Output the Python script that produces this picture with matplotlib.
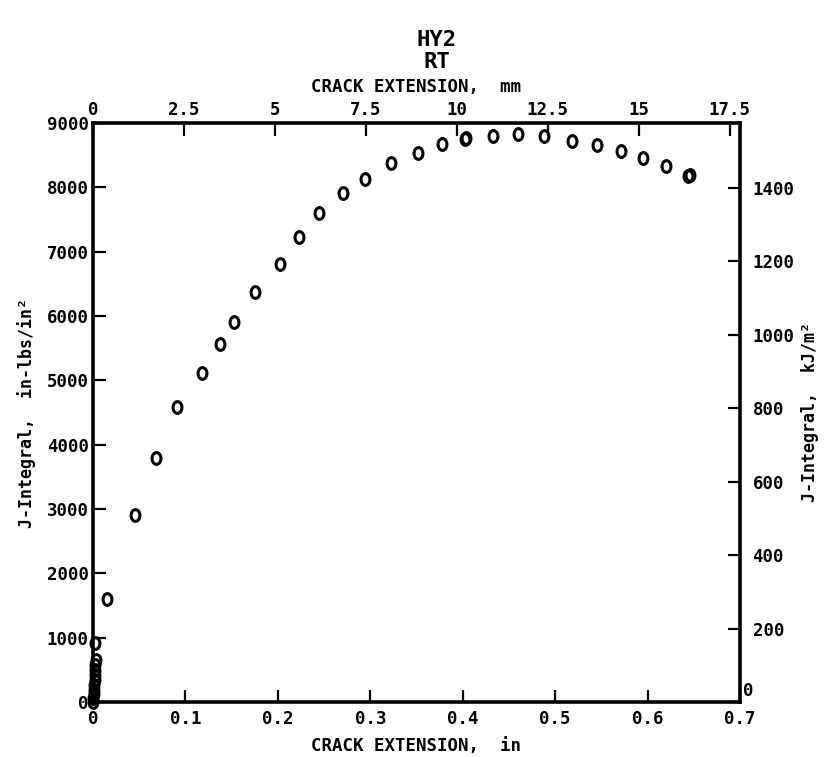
import matplotlib
matplotlib.use('Agg')
from matplotlib import pyplot as plt
from matplotlib.path import Path
from matplotlib.transforms import Affine2D, ScaledTranslation

# crack extension (in) and J-integral (in-lbs/in^2), specimen HY2 at RT
crack_in = [0.000, 0.000, 0.001, 0.001, 0.001, 0.002, 0.002, 0.002, 0.002, 0.003,
            0.002, 0.015, 0.045, 0.068, 0.091, 0.118, 0.137, 0.153, 0.175,
            0.202, 0.223, 0.245, 0.271, 0.294, 0.322, 0.352, 0.378, 0.402,
            0.404, 0.433, 0.460, 0.488, 0.518, 0.545, 0.571, 0.595, 0.620,
            0.644, 0.646]
j_int = [0, 60, 120, 190, 260, 340, 420, 500, 580, 650,
         922, 1596, 2900, 3800, 4581, 5119, 5560, 5911, 6368,
         6808, 7233, 7596, 7907, 8125, 8383, 8529, 8673, 8755,
         8770, 8803, 8829, 8803, 8720, 8658, 8565, 8451, 8331,
         8175, 8190]

in_ticks = [0, 0.1, 0.2, 0.3, 0.4, 0.5, 0.6, 0.7]
mm_ticks = [0, 2.5, 5, 7.5, 10, 12.5, 15, 17.5]
j_ticks = [0, 1000, 2000, 3000, 4000, 5000, 6000, 7000, 8000, 9000]
kj_ticks = [0, 200, 400, 600, 800, 1000, 1200, 1400]

KJ = 0.175127  # kJ/m^2 per in-lb/in^2
MM = 25.4

plt.rcParams['font.family'] = ['DejaVu Sans Mono']
plt.rcParams['font.weight'] = 'bold'
plt.rcParams['axes.labelweight'] = 'bold'
plt.rcParams['font.size'] = 12.5

fig = plt.figure(figsize=(8.28, 7.57), dpi=100)
ax = fig.add_axes([93 / 828, 1 - 702 / 757, 647 / 828, 579 / 757])

# plotter style "0" marker, a bit taller than wide
oval = Path.unit_circle().transformed(Affine2D().scale(0.75, 1.0))
ax.plot(crack_in, j_int, linestyle='none', marker=oval, markersize=8.5,
        markerfacecolor='none', markeredgecolor='black', markeredgewidth=2.2,
        clip_on=False)

ax.set_xlim(0, 0.7)
ax.set_ylim(0, 9000)
ax.set_xticks(in_ticks)
ax.set_xticklabels(['0', '0.1', '0.2', '0.3', '0.4', '0.5', '0.6', '0.7'])
ax.set_yticks(j_ticks)

for s in ax.spines.values():
    s.set_linewidth(2.6)

ax.tick_params(direction='in', length=9, width=1.6)
ax.tick_params(axis='x', pad=6)
ax.tick_params(axis='y', pad=3)

ax.set_xlabel('CRACK EXTENSION,  in', labelpad=6)
ax.set_ylabel('J-Integral,  in-lbs/in\u00b2', labelpad=8, fontsize=12)

top = ax.secondary_xaxis('top', functions=(lambda x: x * MM, lambda x: x / MM))
top.set_xticks(mm_ticks)
top.set_xticklabels(['0', '2.5', '5', '7.5', '10', '12.5', '15', '17.5'])
top.tick_params(direction='in', length=9, width=1.6, pad=3)
top.set_xlabel('CRACK EXTENSION,  mm', labelpad=6)

right = ax.secondary_yaxis('right', functions=(lambda y: y * KJ, lambda y: y / KJ))
right.set_yticks(kj_ticks)
right.tick_params(direction='in', length=9, width=1.6, pad=9)
right.set_ylabel('J-Integral,  kJ/m\u00b2', labelpad=5, fontsize=12)

# lift the corner "0" of the kJ/m^2 scale clear of the 0.7 label
zero = right.get_yticklabels()[0]
zero.set_transform(zero.get_transform()
                   + ScaledTranslation(-7 / 72, 9 / 72, fig.dpi_scale_trans))

fig.text(437 / 828, 1 - 40 / 757, 'HY2', ha='center', va='center', fontsize=16,
         fontweight='bold')
fig.text(437 / 828, 1 - 62 / 757, 'RT', ha='center', va='center', fontsize=16,
         fontweight='bold')

plt.savefig('out.png', dpi=100)
